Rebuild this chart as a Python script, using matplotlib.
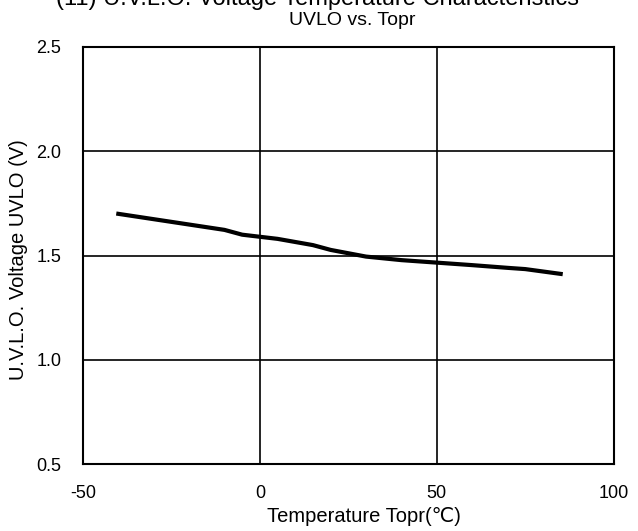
import matplotlib.pyplot as plt

plt.rcParams['font.family'] = ['Liberation Sans', 'DejaVu Sans']
plt.rcParams['axes.unicode_minus'] = False

# Data
temp = [-40, -10, -5, 0, 5, 10, 15, 20, 30, 40, 50, 60, 70, 75, 85]
uvlo = [1.70, 1.623, 1.60, 1.59, 1.58, 1.565, 1.55, 1.527, 1.495, 1.478,
        1.466, 1.454, 1.441, 1.435, 1.412]

x_ticks = [-50, 0, 50, 100]
y_ticks = [0.5, 1.0, 1.5, 2.0, 2.5]

fig = plt.figure(figsize=(6.38, 5.31), dpi=100)
ax = fig.add_axes([0.130, 0.126, 0.832, 0.7855])

ax.plot(temp, uvlo, color="black", linewidth=3)

ax.set_xlim(-50, 100)
ax.set_ylim(0.5, 2.5)
ax.set_xticks(x_ticks)
ax.set_yticks(y_ticks)
ax.set_yticklabels([f"{v:.1f}" for v in y_ticks])
ax.tick_params(length=0, labelsize=13)
ax.tick_params(axis='y', pad=15.5)
ax.tick_params(axis='x', pad=15)
ax.grid(True, color="black", linewidth=1.2)
for s in ax.spines.values():
    s.set_linewidth(1.5)
    s.set_color("black")

ax.set_xlabel("Temperature Topr(℃)", fontsize=14.5, va="center")
ax.set_ylabel("U.V.L.O. Voltage UVLO (V)", fontsize=14.5, va="center")
ax.xaxis.set_label_coords(0.53, -0.125)
ax.yaxis.set_label_coords(-0.122, 0.49)

fig.text(0.497, 0.9915, "(11) U.V.L.O. Voltage Temperature Characteristics",
         ha="center", va="baseline", fontsize=17)
fig.text(0.552, 0.961, "UVLO vs. Topr", ha="center", va="center", fontsize=14)

fig.savefig("out.png", dpi=100)
